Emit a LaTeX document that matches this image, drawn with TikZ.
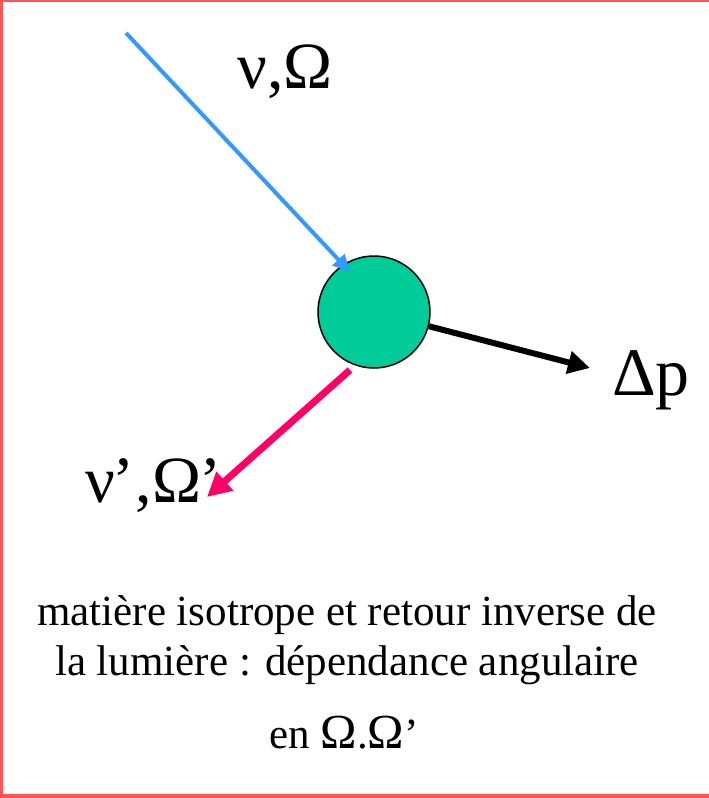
\documentclass[tikz,border=0pt]{standalone}
\usepackage{fontspec}
\setmainfont{Liberation Serif}
\usetikzlibrary{arrows.meta}
\definecolor{frame}{RGB}{255,85,85}
\definecolor{ball}{RGB}{0,204,153}
\definecolor{inblue}{RGB}{51,153,255}
\definecolor{outpink}{RGB}{255,0,102}
\newcommand{\bigO}{{\fontsize{49}{49}\selectfont Ω}}
\begin{document}
\begin{tikzpicture}[x=1pt,y=-1pt,
  lbl/.style={font=\fontsize{66}{66}\selectfont, inner sep=0pt, anchor=base west},
  txt/.style={font=\fontsize{43}{43}\selectfont, inner sep=0pt, anchor=base},
  ray/.style={line cap=butt}]
\useasboundingbox (0,0) rectangle (709,798);
\fill[white] (0,0) rectangle (709,798);
% frame
\draw[frame, line width=3pt] (1.5,0) -- (1.5,798);
\draw[frame, line width=2.5pt] (0,1.2) -- (709,1.2);
\draw[frame, line width=4pt] (0,796) -- (709,796);
% particle
\node[circle, draw=black, line width=1.5pt, fill=ball, minimum size=112pt, inner sep=0pt] (c) at (374,312) {};
% coordinates
\coordinate (bs) at (126,33);
\coordinate (bt) at (350,272);
\coordinate (ps) at (350,370);
\coordinate (pt) at (207,497);
\coordinate (kt) at (590,368);
% arrows
\draw[ray, inblue, line width=4pt, -{Triangle[length=17pt,width=16pt]}] (bs) -- (bt);
\draw[ray, black, line width=6pt, -{Triangle[length=22pt,width=22pt]}] (c) -- (kt);
% labels
\node[lbl] (l1) at (237,88) {ν,Ω};
\node[lbl, font=\fontsize{68}{68}\selectfont] (l2) at (612,395) {Δp};
\node[lbl] (l3) at (85,502) {ν\kern-0.04em’\kern0.02em,Ω\kern-0.02em’};
\draw[ray, outpink, line width=7pt, -{Triangle[length=24pt,width=24pt]}] (ps) -- (pt);
% caption
\node[txt] (t1) at (347,625) {matière isotrope et retour inverse de};
\node[txt] (t2) at (347,675) {la lumière : dépendance angulaire};
\node[txt] (t3) at (344,748) {en\ \bigO.\bigO’};
\end{tikzpicture}
\end{document}
